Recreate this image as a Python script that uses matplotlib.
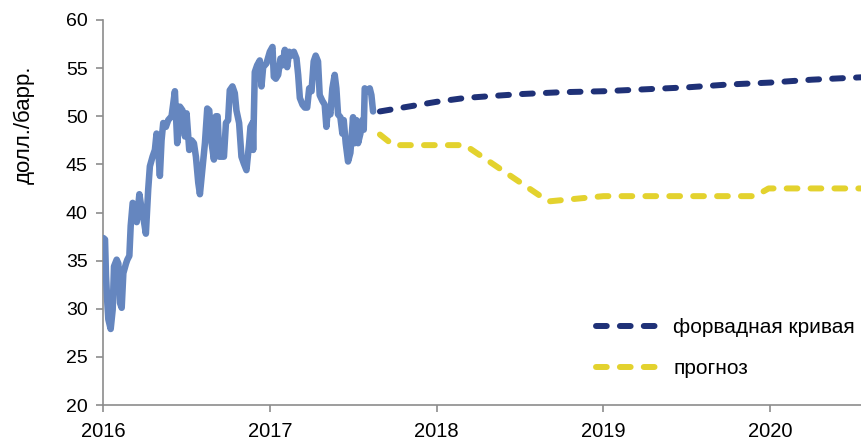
import matplotlib
matplotlib.use("Agg")
import matplotlib.pyplot as plt
import numpy as np

plt.rcParams['font.family'] = ['Liberation Sans', 'DejaVu Sans']

# Historical price (decimal years, USD/bbl)
hist_t = [2016.002, 2016.012, 2016.018, 2016.026, 2016.032, 2016.046, 2016.058, 2016.066, 2016.082, 2016.092,
          2016.102, 2016.112, 2016.122, 2016.138, 2016.146, 2016.158, 2016.166, 2016.178, 2016.192, 2016.202,
          2016.218, 2016.232, 2016.246, 2016.257, 2016.271, 2016.281, 2016.297, 2016.311, 2016.321, 2016.331,
          2016.341, 2016.351, 2016.361, 2016.377, 2016.391, 2016.411, 2016.431, 2016.445, 2016.461, 2016.477,
          2016.491, 2016.501, 2016.517, 2016.531, 2016.545, 2016.557, 2016.571, 2016.581, 2016.595, 2016.611,
          2016.625, 2016.637, 2016.651, 2016.665, 2016.677, 2016.687, 2016.697, 2016.711, 2016.725, 2016.737,
          2016.750, 2016.760, 2016.776, 2016.790, 2016.800, 2016.816, 2016.830, 2016.844, 2016.860, 2016.876,
          2016.884, 2016.896, 2016.900, 2016.910, 2016.924, 2016.940, 2016.950, 2016.960, 2016.980, 2017.000,
          2017.016, 2017.024, 2017.036, 2017.050, 2017.064, 2017.076, 2017.090, 2017.104, 2017.116, 2017.130,
          2017.144, 2017.160, 2017.170, 2017.180, 2017.196, 2017.210, 2017.224, 2017.236, 2017.250, 2017.263,
          2017.275, 2017.289, 2017.299, 2017.315, 2017.329, 2017.339, 2017.349, 2017.363, 2017.375, 2017.389,
          2017.399, 2017.409, 2017.423, 2017.435, 2017.443, 2017.455, 2017.469, 2017.483, 2017.499, 2017.509,
          2017.519, 2017.529, 2017.543, 2017.555, 2017.563, 2017.569, 2017.583, 2017.599, 2017.609, 2017.619]
hist_v = [37.35, 37.2, 33.4, 30.6, 28.9, 27.9, 29.9, 34.4, 35.1, 34.7,
          30.6, 30.1, 33.7, 34.7, 35.1, 35.5, 38.6, 41.0, 40.7, 39.0,
          41.9, 40.3, 39.0, 37.8, 42.4, 44.8, 45.8, 46.5, 48.2, 46.5,
          43.8, 47.5, 49.3, 48.9, 49.6, 50.0, 52.6, 47.2, 51.0, 50.6,
          47.9, 50.3, 46.5, 47.5, 47.2, 45.8, 43.1, 41.9, 44.4, 47.2,
          50.8, 50.6, 47.2, 45.5, 50.0, 50.0, 45.8, 45.8, 45.8, 49.3,
          49.6, 52.7, 53.1, 52.4, 50.6, 49.3, 45.8, 45.1, 44.4, 47.2,
          48.9, 49.3, 46.5, 54.6, 55.3, 55.8, 53.1, 55.1, 55.5, 56.7,
          57.2, 54.1, 53.9, 54.3, 56.0, 55.3, 56.9, 55.1, 56.7, 56.3,
          56.7, 56.0, 54.3, 51.9, 51.2, 50.9, 50.9, 52.9, 52.6, 55.7,
          56.3, 55.7, 52.2, 51.6, 51.2, 48.9, 50.9, 50.2, 52.9, 54.3,
          52.9, 50.2, 49.9, 48.2, 49.6, 47.2, 45.3, 46.2, 49.9, 47.2,
          49.6, 47.2, 48.2, 49.6, 48.6, 52.9, 52.6, 52.9, 52.2, 50.5]

# Forward curve
fwd_t = [2017.66, 2017.83, 2018.0, 2018.17, 2018.33, 2018.5, 2018.75, 2019.0, 2019.25, 2019.5, 2019.75, 2020.0, 2020.25, 2020.55]
fwd_v = [50.5, 51.0, 51.5, 51.9, 52.1, 52.3, 52.5, 52.6, 52.8, 53.0, 53.3, 53.5, 53.8, 54.05]

# Forecast
fc_t = [2017.66, 2017.74, 2018.17, 2018.67, 2019.0, 2019.91, 2019.99, 2020.55]
fc_v = [48.1, 47.0, 47.0, 41.15, 41.7, 41.7, 42.5, 42.5]

year_ticks = [2016, 2017, 2018, 2019, 2020]
y_ticks = [20, 25, 30, 35, 40, 45, 50, 55, 60]
labels = ['форвадная кривая', 'прогноз']
ylabel = 'долл./барр.'

fig = plt.figure(figsize=(8.62, 4.41), dpi=100)
ax = fig.add_axes([103/862, 36/441, 1 - 103/862, 385/441])

ax.plot(hist_t, hist_v, color='#6586BF', lw=4.7, solid_joinstyle='round', solid_capstyle='round', zorder=3)
l1, = ax.plot(fwd_t, fwd_v, color='#1F3177', lw=4.3, dashes=(1.8, 2.2), dash_capstyle='round', label=labels[0])
l2, = ax.plot(fc_t, fc_v, color='#E3D22E', lw=4.3, dashes=(1.8, 2.2), dash_capstyle='round', label=labels[1])

ax.set_xlim(2016, 2020.55)
ax.set_ylim(20, 60)
ax.set_xticks(year_ticks)
ax.set_xticklabels([str(y) for y in year_ticks])
ax.set_yticks(y_ticks)
for s in ['top', 'right']:
    ax.spines[s].set_visible(False)
for s in ['left', 'bottom']:
    ax.spines[s].set_color('#8c8c8c')
    ax.spines[s].set_linewidth(1.2)
ax.tick_params(axis='both', colors='#8c8c8c', length=5, width=1.2, labelsize=14, labelcolor='black')
ax.tick_params(axis='x', pad=7, labelsize=14.5)
ax.tick_params(axis='y', pad=6)

fig.text(24/862, 1 - 125/441, ylabel, rotation=90, ha='center', va='center', fontsize=16)

leg = ax.legend(handles=[l1, l2], loc='upper left', bbox_to_anchor=(596/862, 1 - 318/441),
                bbox_transform=fig.transFigure, frameon=False, fontsize=15,
                handlelength=3.1, handletextpad=0.6, labelspacing=1.05, borderpad=0, borderaxespad=0)

fig.savefig('out.png', dpi=100)
